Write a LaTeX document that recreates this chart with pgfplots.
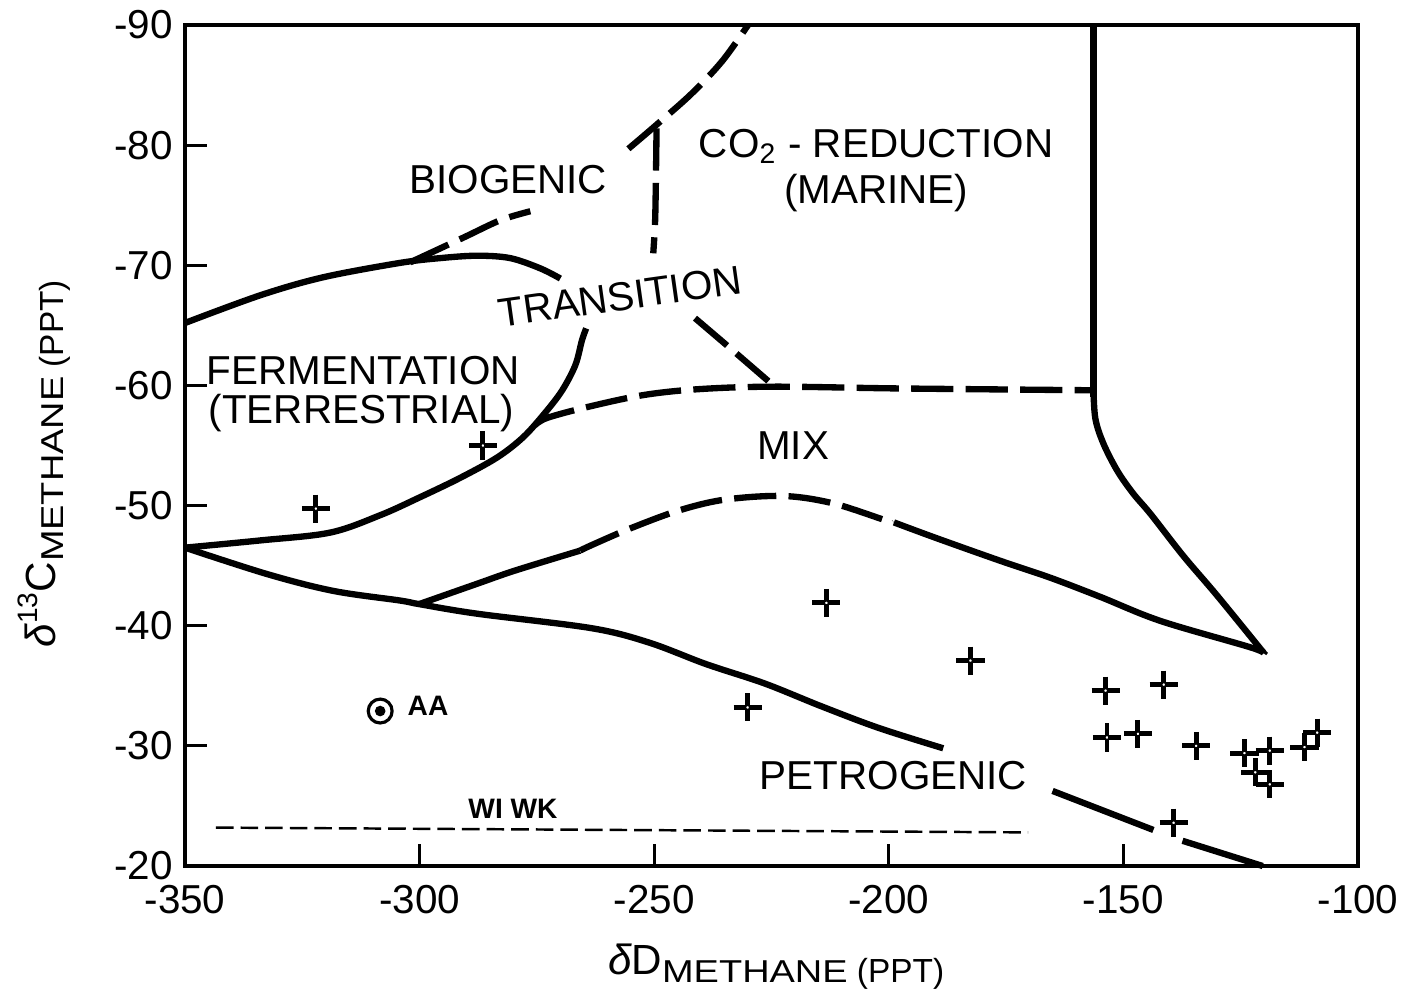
\documentclass[border=0pt]{standalone}
\usepackage{graphicx}
\usepackage{pgfplots}
\pgfplotsset{compat=1.18}
\usepackage{pgfplotstable}
\usepackage{fontspec}
\setmainfont{Liberation Sans}
\newcommand{\lbl}{\fontsize{11.5}{13}\selectfont}
\newcommand{\sml}{\fontsize{8}{9}\selectfont\bfseries}

\pgfplotstableread{
x y
-322.1 -49.75
-286.5 -55.0
-213.3 -41.9
-230.1 -33.2
-182.6 -37.1
-153.8 -34.6
-141.4 -35.1
-153.5 -30.7
-146.9 -31.0
-134.5 -30.0
-124.2 -29.4
-118.8 -29.6
-121.9 -27.8
-118.8 -26.8
-111.4 -29.9
-108.7 -31.1
-139.3 -23.6
}\samples

\pgfplotsset{
  bnd/.style={black, line width=1.8pt, no markers, smooth, tension=0.55},
  dsh/.style={bnd, dash pattern=on 12pt off 3.5pt},
}

\begin{document}
\begin{tikzpicture}
\begin{axis}[
  scale only axis, width=11.73cm, height=8.41cm,
  xmin=-350, xmax=-100, ymin=-90, ymax=-20, y dir=reverse,
  axis line style={line width=1pt},
  xtick={-350,-300,-250,-200,-150,-100},
  ytick={-90,-80,-70,-60,-50,-40,-30,-20},
  tick align=inside, tick pos=left,
  major tick length=0.22cm,
  tick style={black, line width=0.9pt},
  tick label style={font=\fontsize{11.5}{13}\selectfont},
  xticklabel style={yshift=-2pt},
  /pgf/number format/assume math mode=true,
  clip=false,
]
\coordinate (BL) at (axis cs:-350,-20);

% fermentation upper boundary (solid)
\addplot[bnd] coordinates {(-350,-65.2) (-334.0,-67.5) (-320.6,-69.0) (-304.2,-70.2) (-295.6,-70.6) (-287.7,-70.8) (-280.7,-70.6) (-274.3,-69.75) (-270.0,-68.9)};
% biogenic boundary (dashed)
\addplot[dsh] coordinates {(-302.0,-70.25) (-290.7,-72.3) (-282.8,-73.75) (-276.4,-74.5)};
\addplot[dsh] coordinates {(-255.5,-79.7) (-249.8,-81.6) (-242,-84.3) (-235.5,-87.0) (-230,-90)};
% transition vertical (dashed)
\addplot[dsh] coordinates {(-249.5,-81.4) (-249.6,-78.2) (-249.8,-73.75) (-250.2,-71.0)};
% transition lower diagonal (dashed)
\addplot[dsh] coordinates {(-241.3,-65.6) (-233.2,-62.9) (-224.6,-60.0)};
% mix upper boundary (dashed)
\addplot[dsh] coordinates {(-275.4,-56.7) (-272.8,-57.3) (-264.3,-58.2) (-252.3,-59.2) (-240.2,-59.7) (-224.2,-59.9) (-197.5,-59.75) (-156.4,-59.6)};
% fermentation lower boundary (solid)
\addplot[bnd] coordinates {(-350,-46.5) (-334.0,-47.1) (-319.1,-47.75) (-308.4,-49.2) (-299.9,-50.7) (-291.4,-52.3) (-283.5,-54.0) (-277.9,-55.7) (-273.2,-57.75) (-269.6,-59.6) (-266.8,-61.7) (-265.4,-63.75) (-264.5,-64.75)};
% petrogenic upper boundary (solid)
\addplot[bnd] coordinates {(-350,-46.5) (-332.5,-44.3) (-318.4,-42.9) (-304.2,-42.1) (-300.1,-41.8) (-287.7,-41.0) (-263.4,-39.8) (-251.1,-38.6) (-238.9,-36.8) (-226.5,-35.2) (-214.4,-33.3) (-202.2,-31.5) (-188.4,-29.8)};
\addplot[bnd] coordinates {(-165.1,-26.25) (-143.6,-23.0)};
\addplot[bnd] coordinates {(-137.4,-22.1) (-120.3,-20)};
% mix lower boundary
\addplot[bnd] coordinates {(-300.1,-41.8) (-287.7,-43.5) (-279.6,-44.6) (-265.8,-46.25)};
\addplot[dsh] coordinates {(-265.8,-46.25) (-263.4,-46.7) (-255.1,-48.1) (-244.7,-49.6) (-234.9,-50.5) (-222.5,-50.8) (-212.0,-50.2) (-200.5,-48.75) (-198.9,-48.6)};
\addplot[bnd] coordinates {(-198.9,-48.6) (-189.9,-47.3) (-176.2,-45.4) (-165.6,-44.0) (-154.9,-42.4) (-142.1,-40.4) (-122.9,-38.2) (-120.1,-37.7)};
% CO2 reduction right boundary
\addplot[black, line width=1.8pt] coordinates {(-156.4,-90) (-156.4,-59.0)};
\addplot[bnd] coordinates {(-156.4,-60) (-156.0,-57.3) (-154.3,-55.2) (-151.3,-52.9) (-147.9,-51.0) (-144.2,-49.3) (-137.2,-45.8) (-130.0,-42.5) (-120.1,-37.75)};
% WI WK line
\addplot[black, line width=0.7pt, dash pattern=on 5pt off 2pt] coordinates {(-343.4,-23.2) (-170.3,-22.8)};

% samples
\addplot[black, only marks, mark=+, mark size=4pt, line width=1.4pt] table {\samples};
\addplot[only marks, mark=*, mark size=0.6pt, mark options={fill=white, draw=none}] table {\samples};
% AA
\addplot[black, only marks, mark=o, mark size=3.4pt, line width=0.9pt] coordinates {(-308.4,-32.9)};
\addplot[black, only marks, mark=*, mark size=1.3pt] coordinates {(-308.4,-32.9)};

% region labels
\node[font=\lbl] at (axis cs:-281.1,-77.1) {BIOGENIC};
\node[font=\lbl] at (axis cs:-202.7,-79.9) {CO\textsubscript{2} - REDUCTION};
\node[font=\lbl] at (axis cs:-202.7,-76.0) {(MARINE)};
\node[font=\lbl, rotate=8] at (axis cs:-257.3,-67.4) {TRANSITION};
\node[font=\lbl] at (axis cs:-312.0,-61.2) {FERMENTATION};
\node[font=\lbl] at (axis cs:-312.4,-57.7) {(TERRESTRIAL)};
\node[font=\lbl] at (axis cs:-220.4,-55.0) {MIX};
\node[font=\lbl] at (axis cs:-199.0,-27.5) {PETROGENIC};
\node[font=\sml] at (axis cs:-298.2,-33.3) {AA};
\node[font=\sml] at (axis cs:-280.1,-24.75) {WI WK};

% axis labels
\node[anchor=base] at (axis cs:-224.0,-11.0) {\fontsize{12}{14}\selectfont{\itshape δ}D\raisebox{-2.5pt}{\scalebox{1.2}[1]{\fontsize{9}{10}\selectfont METHANE}\fontsize{9.5}{10}\selectfont\ (PPT)}};
\node[rotate=90, anchor=base] at (axis cs:-377.7,-53.5) {\fontsize{12}{14}\selectfont{\itshape δ}\raisebox{5pt}{\fontsize{8}{9}\selectfont 13}C\raisebox{-2.5pt}{\scalebox{1.2}[1]{\fontsize{9}{10}\selectfont METHANE}\fontsize{9.5}{10}\selectfont\ (PPT)}};
\end{axis}
\pgfresetboundingbox
\path (BL) ++(-1.85cm,-1.38cm) rectangle ++(14.06cm,10.04cm);
\end{tikzpicture}
\end{document}
